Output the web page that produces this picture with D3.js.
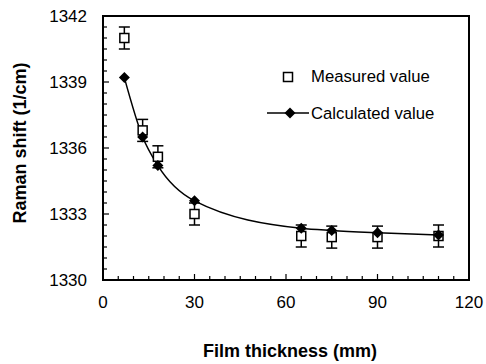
<!DOCTYPE html>
<html><head><meta charset="utf-8">
<script src="https://cdn.jsdelivr.net/npm/d3@7"></script>
<style>body{margin:0;background:#fff}svg{display:block}text{font-family:"Liberation Sans",Arial,sans-serif;fill:#000}</style>
</head><body>
<script>
const thickness = [7, 13, 18, 30, 65, 75, 90, 110];
const measured = [1341.0, 1336.8, 1335.6, 1333.0, 1332.0, 1331.95, 1331.95, 1332.0];
const measuredErr = [0.5, 0.5, 0.5, 0.5, 0.5, 0.5, 0.5, 0.5];
const calculated = [1339.2, 1336.5, 1335.2, 1333.6, 1332.35, 1332.25, 1332.15, 1332.05];
const xTicks = [0, 30, 60, 90, 120];
const yTicks = [1330, 1333, 1336, 1339, 1342];
const xLabel = "Film thickness (mm)";
const yLabel = "Raman shift (1/cm)";
const legendLabels = ["Measured value", "Calculated value"];

const W = 486, H = 364;
const m = {l: 103, r: 17, t: 16, b: 84};
const svg = d3.select("body").append("svg").attr("width", W).attr("height", H);
const x = d3.scaleLinear().domain([0, 120]).range([m.l, W - m.r]);
const y = d3.scaleLinear().domain([1330, 1342]).range([H - m.b, m.t]);

// minor ticks
const xMinor = d3.range(5, 120, 5).filter(v => v % 30 !== 0);
const yMinor = d3.range(1330.5, 1342, 0.5).filter(v => Math.abs((v - 1330) % 3) > 1e-6);
svg.append("g").selectAll("line").data(xMinor).join("line")
  .attr("x1", d => x(d)).attr("x2", d => x(d)).attr("y1", y(1330)).attr("y2", y(1330) - 4)
  .attr("stroke", "#000").attr("stroke-width", 1.2);
svg.append("g").selectAll("line").data(xTicks).join("line")
  .attr("x1", d => x(d)).attr("x2", d => x(d)).attr("y1", y(1330)).attr("y2", y(1330) - 6)
  .attr("stroke", "#000").attr("stroke-width", 1.2);
svg.append("g").selectAll("line").data(yMinor).join("line")
  .attr("y1", d => y(d)).attr("y2", d => y(d)).attr("x1", x(0)).attr("x2", x(0) + 4)
  .attr("stroke", "#000").attr("stroke-width", 1.2);
svg.append("g").selectAll("line").data(yTicks).join("line")
  .attr("y1", d => y(d)).attr("y2", d => y(d)).attr("x1", x(0)).attr("x2", x(0) + 6)
  .attr("stroke", "#000").attr("stroke-width", 1.2);

// frame
svg.append("rect").attr("x", x(0)).attr("y", y(1342)).attr("width", x(120) - x(0)).attr("height", y(1330) - y(1342))
  .attr("fill", "none").attr("stroke", "#000").attr("stroke-width", 2);

// tick labels
svg.append("g").selectAll("text").data(xTicks).join("text")
  .attr("x", d => x(d)).attr("y", 308).attr("text-anchor", "middle").attr("font-size", 17).text(d => d);
svg.append("g").selectAll("text").data(yTicks).join("text")
  .attr("x", 87).attr("y", d => y(d) + 6).attr("text-anchor", "end").attr("font-size", 17).text(d => d);

// axis titles
svg.append("text").attr("x", 290).attr("y", 357).attr("text-anchor", "middle")
  .attr("font-size", 18).attr("font-weight", "bold").text(xLabel);
svg.append("text").attr("transform", `translate(26,143) rotate(-90)`).attr("text-anchor", "middle")
  .attr("font-size", 18).attr("font-weight", "bold").text(yLabel);

// calculated curve
const data = thickness.map((t, i) => ({t, m: measured[i], e: measuredErr[i], c: calculated[i]}));
svg.append("path").datum(data)
  .attr("d", d3.line().x(d => x(d.t)).y(d => y(d.c)).curve(d3.curveMonotoneX))
  .attr("fill", "none").attr("stroke", "#000").attr("stroke-width", 1.5);

// error bars
const eb = svg.append("g").attr("stroke", "#000").attr("stroke-width", 1.5);
data.forEach(d => {
  eb.append("line").attr("x1", x(d.t)).attr("x2", x(d.t)).attr("y1", y(d.m - d.e)).attr("y2", y(d.m + d.e));
  eb.append("line").attr("x1", x(d.t) - 5.5).attr("x2", x(d.t) + 5.5).attr("y1", y(d.m - d.e)).attr("y2", y(d.m - d.e));
  eb.append("line").attr("x1", x(d.t) - 5.5).attr("x2", x(d.t) + 5.5).attr("y1", y(d.m + d.e)).attr("y2", y(d.m + d.e));
});
// squares
svg.append("g").selectAll("rect").data(data).join("rect")
  .attr("x", d => x(d.t) - 4.5).attr("y", d => y(d.m) - 4.5).attr("width", 9).attr("height", 9)
  .attr("fill", "#fff").attr("stroke", "#000").attr("stroke-width", 1.5);
// diamonds
const diamond = "M0,-5.5L5.5,0L0,5.5L-5.5,0Z";
svg.append("g").selectAll("path").data(data).join("path")
  .attr("d", diamond).attr("transform", d => `translate(${x(d.t)},${y(d.c)})`).attr("fill", "#000");

// legend
svg.append("rect").attr("x", 283.5).attr("y", 72.5).attr("width", 9).attr("height", 9)
  .attr("fill", "#fff").attr("stroke", "#000").attr("stroke-width", 1.5);
svg.append("text").attr("x", 311).attr("y", 82).attr("font-size", 16.7).text(legendLabels[0]);
svg.append("line").attr("x1", 267).attr("x2", 309).attr("y1", 113).attr("y2", 113).attr("stroke", "#000").attr("stroke-width", 1.5);
svg.append("path").attr("d", diamond).attr("transform", "translate(290,113)").attr("fill", "#000");
svg.append("text").attr("x", 311).attr("y", 119).attr("font-size", 16.7).text(legendLabels[1]);
</script>
</body></html>
